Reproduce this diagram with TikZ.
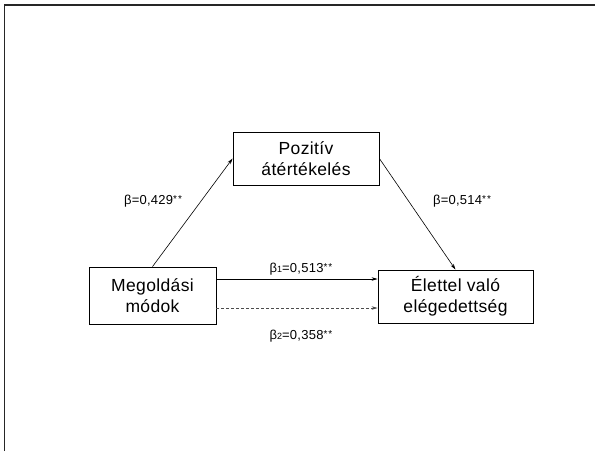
\documentclass[tikz,border=0pt]{standalone}
\usepackage{fontspec}
\setmainfont{Liberation Sans}[LetterSpace=2]
\usetikzlibrary{calc}
\usetikzlibrary{arrows.meta}
\usetikzlibrary{positioning}

\newcommand{\sigstars}{\raisebox{1.5pt}{\fontsize{10}{10}\selectfont*\kern1pt*}}
\newcommand{\bsub}[1]{β\raisebox{-0.5pt}{\fontsize{9}{9}\selectfont #1}}

\tikzset{
  varbox/.style={draw, line width=0.8pt, align=center, inner sep=0pt,
    font=\fontsize{17.5}{21}\selectfont},
  coef/.style={inner sep=1pt, font=\fontsize{13}{15}\selectfont},
  effect/.style={-{Stealth[length=6pt,width=3.5pt]}, line width=0.6pt}
}

\begin{document}
\begin{tikzpicture}[x=1pt,y=-1pt]
\useasboundingbox (0,0) rectangle (595,451);

\draw[line width=1.3pt, black!85] (4.5,451) -- (4.5,5) -- (595,5);

\node[varbox, minimum width=146pt, minimum height=53pt] (pos) at (306,158.5) {Pozitív\\átértékelés};
\node[varbox, minimum width=127pt, minimum height=57pt] (meg) at (152.5,295.5) {Megoldási\\módok};
\node[varbox, minimum width=155pt, minimum height=53pt] (elet) at (455.5,296.5) {Élettel való\\elégedettség};

\draw[effect] (meg.north) -- (pos.west);
\draw[effect] (pos.east) -- (elet.north);
\draw[effect] ([yshift=16.5pt]meg.east) -- ([yshift=16.5pt]meg.east -| elet.west);
\draw[effect, black!70, dash pattern=on 3pt off 2pt] ([yshift=-12.5pt]meg.east) -- ([yshift=-12.5pt]meg.east -| elet.west);

\node[coef] (apath) at (153,201) {β=0,429\sigstars};
\node[coef] (bpath) at (462,201) {β=0,514\sigstars};
\node[coef] (cpath) at (301,269) {\bsub{1}=0,513\sigstars};
\node[coef] (cprime) at (301,336) {\bsub{2}=0,358\sigstars};

\end{tikzpicture}
\end{document}
